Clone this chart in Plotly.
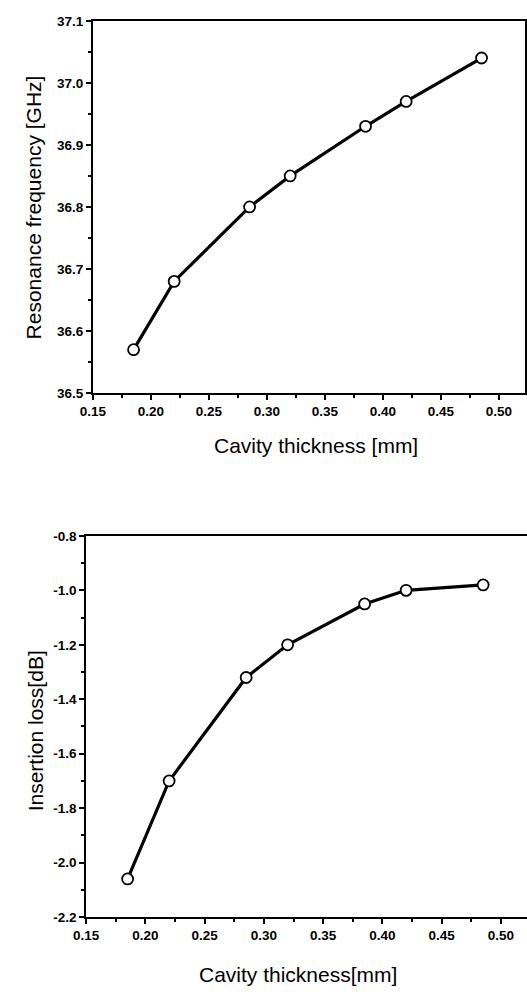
import plotly.graph_objects as go

# Data
thickness = [0.185, 0.22, 0.285, 0.32, 0.385, 0.42, 0.485]
resonance_ghz = [36.57, 36.68, 36.80, 36.85, 36.93, 36.97, 37.04]
insertion_loss_db = [-2.06, -1.70, -1.32, -1.20, -1.05, -1.00, -0.98]

x_ticks = [0.15, 0.20, 0.25, 0.30, 0.35, 0.40, 0.45, 0.50]
y1_ticks = [36.5, 36.6, 36.7, 36.8, 36.9, 37.0, 37.1]
y2_ticks = [-2.2, -2.0, -1.8, -1.6, -1.4, -1.2, -1.0, -0.8]

W, H = 527, 995

fig = go.Figure()

line_style = dict(color="black", width=3.2)
marker_style = dict(symbol="circle", size=11, color="white",
                    line=dict(color="black", width=1.8))

fig.add_trace(go.Scatter(x=thickness, y=resonance_ghz, mode="lines+markers",
                         line=line_style, marker=marker_style,
                         xaxis="x", yaxis="y", showlegend=False))
fig.add_trace(go.Scatter(x=thickness, y=insertion_loss_db, mode="lines+markers",
                         line=line_style, marker=marker_style,
                         xaxis="x2", yaxis="y2", showlegend=False))

tickfont = dict(family="Liberation Sans, Arial, sans-serif", size=13.5,
                color="black", weight="bold")
titlefont = dict(family="Liberation Sans, Arial, sans-serif", size=21,
                 color="black")


def px_x(p):
    return p / W


def px_y(p):
    return 1 - p / H


common_axis = dict(showgrid=False, zeroline=False, showline=True,
                   linecolor="black", linewidth=2, ticks="outside",
                   ticklen=5, tickwidth=2, tickcolor="black",
                   tickfont=tickfont)

fig.update_layout(
    width=W, height=H,
    margin=dict(l=0, r=0, t=0, b=0),
    paper_bgcolor="white", plot_bgcolor="white",
    xaxis=dict(domain=[px_x(82), px_x(525)], anchor="y",
               range=[0.15, 0.5225], tickvals=x_ticks,
               ticktext=[f"{v:.2f}" for v in x_ticks], mirror=True,
               minor=dict(ticks="outside", ticklen=3, tickwidth=2,
                          tickcolor="black", dtick=0.025, tick0=0.15),
               **common_axis),
    yaxis=dict(domain=[px_y(392), px_y(14)], anchor="x",
               range=[36.5, 37.1], tickvals=y1_ticks,
               ticktext=[f"{v:.1f}" for v in y1_ticks], mirror=True,
               minor=dict(ticks="outside", ticklen=3, tickwidth=2,
                          tickcolor="black", dtick=0.05, tick0=36.5),
               **common_axis),
    xaxis2=dict(domain=[px_x(75), 1.0], anchor="y2",
                range=[0.15, 0.522], tickvals=x_ticks,
                ticktext=[f"{v:.2f}" for v in x_ticks], mirror=True,
                minor=dict(ticks="outside", ticklen=3, tickwidth=2,
                           tickcolor="black", dtick=0.025, tick0=0.15),
                **common_axis),
    yaxis2=dict(domain=[px_y(924), px_y(537)], anchor="x2",
                range=[-2.2, -0.8], tickvals=y2_ticks,
                ticktext=[f"{v:.1f}" for v in y2_ticks], mirror=False,
                minor=dict(ticks="outside", ticklen=3, tickwidth=2,
                           tickcolor="black", dtick=0.1, tick0=-2.2),
                **common_axis),
)

fig.add_annotation(text="Resonance frequency [GHz]", xref="paper", yref="paper",
                   x=px_x(21), y=px_y(203), textangle=-90, showarrow=False,
                   xanchor="center", yanchor="middle", font=titlefont)
fig.add_annotation(text="Cavity thickness [mm]", xref="paper", yref="paper",
                   x=px_x(311), y=px_y(445), showarrow=False,
                   xanchor="center", yanchor="middle", font=titlefont)
fig.add_annotation(text="Insertion loss[dB]", xref="paper", yref="paper",
                   x=px_x(23), y=px_y(735), textangle=-90, showarrow=False,
                   xanchor="center", yanchor="middle", font=titlefont)
fig.add_annotation(text="Cavity thickness[mm]", xref="paper", yref="paper",
                   x=px_x(292), y=px_y(982), showarrow=False,
                   xanchor="center", yanchor="middle", font=titlefont)

fig.write_html("out.html")
